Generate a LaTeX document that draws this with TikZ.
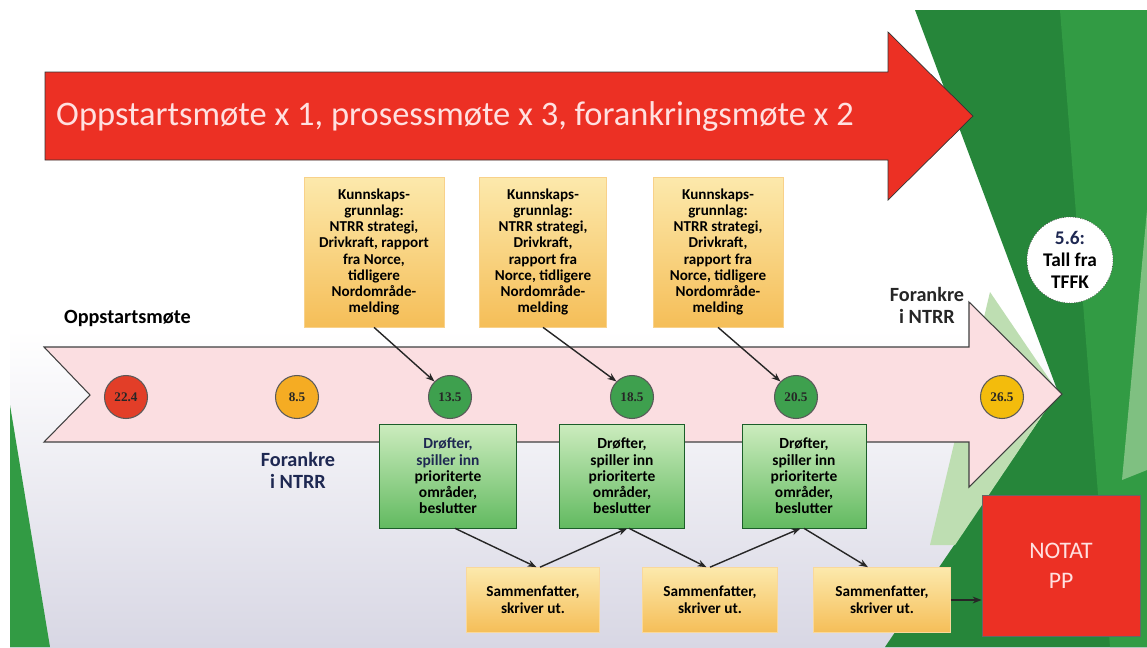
\documentclass[tikz,border=0pt]{standalone}
\usepackage{fontspec}
\setmainfont{Carlito}
\newfontfamily\numfont{Liberation Serif}
\usetikzlibrary{arrows.meta,positioning}
\definecolor{slidered}{RGB}{236,48,36}
\definecolor{chevronpink}{RGB}{251,222,225}
\definecolor{goldtop}{RGB}{252,233,172}
\definecolor{goldbot}{RGB}{245,190,88}
\definecolor{greentop}{RGB}{204,236,190}
\definecolor{greenbot}{RGB}{98,186,96}
\definecolor{navytext}{RGB}{30,40,82}
\definecolor{facetdark}{RGB}{38,134,58}
\definecolor{facetmid}{RGB}{50,155,68}
\definecolor{facetlight}{RGB}{190,222,178}
\definecolor{dotred}{RGB}{226,62,40}
\definecolor{dotamber}{RGB}{245,172,35}
\definecolor{dotgreen}{RGB}{62,160,78}
\definecolor{dotgold}{RGB}{243,188,12}
\definecolor{floorgray}{RGB}{216,215,228}
\tikzset{
  grunnlag/.style={
    draw=goldbot!70,
    top color=goldtop,
    bottom color=goldbot,
    align=center,
    minimum height=3cm,
    inner sep=2pt,
    font=\bfseries\fontsize{8.6}{9.2}\selectfont
  },
  drofter/.style={
    draw=facetdark!70!black,
    top color=greentop,
    bottom color=greenbot,
    align=center,
    minimum height=2.08cm,
    inner sep=2pt,
    font=\bfseries\fontsize{8.8}{9.2}\selectfont
  },
  sammen/.style={
    draw=goldbot!60,
    top color=goldtop,
    bottom color=goldbot,
    align=center,
    minimum height=1.3cm,
    inner sep=2pt,
    font=\bfseries\fontsize{8.7}{9.6}\selectfont
  },
  dato/.style={
    circle,
    draw=black!65,
    semithick,
    minimum size=.86cm,
    inner sep=0pt,
    text=black!85,
    font=\numfont\bfseries\fontsize{7.5}{8}\selectfont
  },
  merke/.style={
    align=center,
    font=\bfseries\fontsize{11.5}{12.5}\selectfont
  },
  arrow/.style={
    -{Stealth[length=1.8mm]},
    thick,
    black!85
  }
}
\begin{document}
\begin{tikzpicture}[x=.02cm,y=-.02cm]
\useasboundingbox (0,0) rectangle (1147,647);
% background of the slide
\fill[white] (0,0) rectangle (1147,647);
\shade[top color=white,bottom color=floorgray] (10,330) rectangle (1147,647);
\fill[facetmid] (10,405) -- (50,647) -- (10,647) -- cycle;
\fill[facetdark] (915,10) -- (1147,10) -- (1147,647) -- (885,647) -- (1058,392) -- cycle;
\fill[facetmid] (1060,10) -- (1147,10) -- (1147,647) -- (1110,647) -- cycle;
\fill[facetlight] (990,292) -- (1058,392) -- (955,545) -- (930,545) -- cycle;
\fill[facetlight!55!facetmid] (1147,210) -- (1147,470) -- (1122,480) -- cycle;

% red banner arrow
\draw[black!80,fill=slidered] (45,72) -- (888,72) -- (888,32) -- (973,116)
  -- (888,200) -- (888,160) -- (45,160) -- cycle;
\node[anchor=west,text=white!88!red,font=\fontsize{19.6}{22}\selectfont] (banner) at (50,116)
  {Oppstartsmøte x 1, prosessmøte x 3, forankringsmøte x 2};

% pink chevron with the dates
\draw[black!75,semithick,fill=chevronpink] (44,347) -- (969,347) -- (969,302) -- (1062,394)
  -- (969,487) -- (969,442) -- (44,442) -- (90,395) -- cycle;

\node[merke,anchor=west] (oppstart) at (58,318) {Oppstartsmøte};
\node[merke,text=navytext] (forankreA) at (298,470) {Forankre\\i NTRR};
\node[merke,text=black!85] (forankreB) at (927,305) {Forankre\\i NTRR};

\node[dato,fill=dotred] (d1) at (126,397) {22.4};
\node[dato,fill=dotamber] (d2) at (297,397) {8.5};
\node[dato,fill=dotgreen] (d3) at (450,397) {13.5};
\node[dato,fill=dotgreen] (d4) at (632,397) {18.5};
\node[dato,fill=dotgreen] (d5) at (796,397) {20.5};
\node[dato,fill=dotgold] (d6) at (1002,397) {26.5};

% knowledge base boxes
\node[grunnlag,minimum width=2.8cm] (kb1) at (374,252)
  {Kunnskaps-\\grunnlag:\\NTRR strategi,\\Drivkraft, rapport\\fra Norce,\\tidligere\\Nordområde-\\melding};
\node[grunnlag,minimum width=2.54cm] (kb2) at (543,252)
  {Kunnskaps-\\grunnlag:\\NTRR strategi,\\Drivkraft,\\rapport fra\\Norce, tidligere\\Nordområde-\\melding};
\node[grunnlag,minimum width=2.6cm] (kb3) at (718,252)
  {Kunnskaps-\\grunnlag:\\NTRR strategi,\\Drivkraft,\\rapport fra\\Norce, tidligere\\Nordområde-\\melding};

% process meetings
\node[drofter,minimum width=2.74cm] (g1) at (448,476)
  {\textcolor{navytext}{Drøfter,}\\\textcolor{navytext}{spiller inn}\\prioriterte\\områder,\\beslutter};
\node[drofter,minimum width=2.5cm] (g2) at (622,476)
  {Drøfter,\\spiller inn\\prioriterte\\områder,\\beslutter};
\node[drofter,minimum width=2.48cm] (g3) at (804,476)
  {Drøfter,\\spiller inn\\prioriterte\\områder,\\beslutter};

\node[sammen,minimum width=2.66cm] (s1) at (533,600) {Sammenfatter,\\skriver ut.};
\node[sammen,minimum width=2.7cm] (s2) at (710,600) {Sammenfatter,\\skriver ut.};
\node[sammen,minimum width=2.74cm] (s3) at (882,600) {Sammenfatter,\\skriver ut.};

\node[draw=black!60,fill=slidered,minimum width=3.16cm,minimum height=2.82cm,
  align=center,text=white!88!red,font=\fontsize{13.5}{17}\selectfont] (notat) at (1061,566) {NOTAT\\PP};

\node[circle,fill=white,draw=black!70,densely dotted,minimum size=1.72cm,inner sep=0pt,
  align=center,font=\bfseries\fontsize{11}{12.5}\selectfont] (tffk) at (1070,260)
  {\textcolor{navytext}{5.6:}\\Tall fra\\TFFK};

\draw[arrow] (kb1.south) -- (d3.135);
\draw[arrow] (kb2.south) -- (d4.135);
\draw[arrow] (kb3.south) -- (d5.135);

\draw[arrow] ([xshift=4pt]g1.south) -- ([xshift=2pt]s1.north);
\draw[arrow] ([xshift=4pt]s1.north) -- ([xshift=3pt]g2.south);
\draw[arrow] ([xshift=4pt]g2.south) -- ([xshift=-2pt]s2.north);
\draw[arrow] (s2.north) -- ([xshift=-2pt]g3.south);
\draw[arrow] (g3.south) -- ([xshift=-8pt]s3.north);
\draw[arrow] (s3.east) -- (s3.east -| notat.west);
\end{tikzpicture}
\end{document}
